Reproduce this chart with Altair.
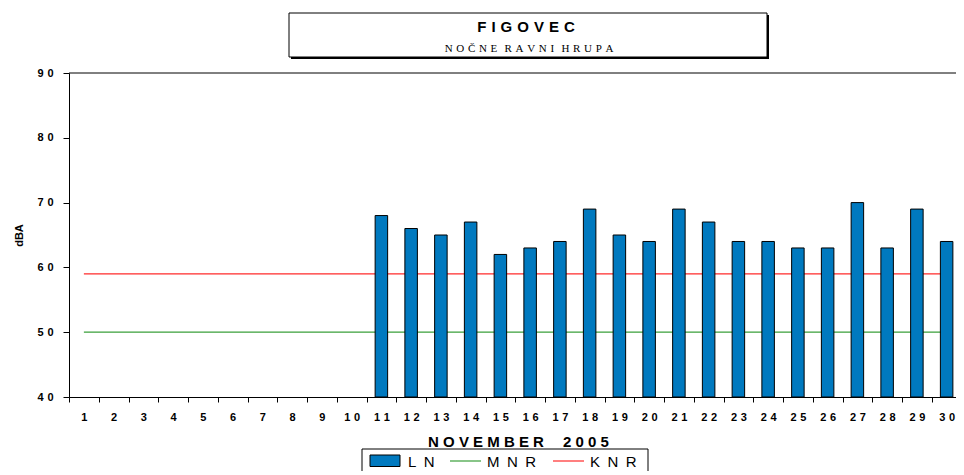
import altair as alt
import pandas as pd

# ---- data ----
days = list(range(1, 31))
ln_days = list(range(11, 31))
ln_values = [68, 66, 65, 67, 62, 63, 64, 69, 65, 64,
             69, 67, 64, 64, 63, 63, 70, 63, 69, 64]
mnr_level = 50
knr_level = 59
y_ticks = [40, 50, 60, 70, 80, 90]
series_names = ["MNR", "KNR"]

SP = "\u2004"
title_text = SP.join("FIGOVEC")
subtitle_text = (SP + SP).join(SP.join(w) for w in ["NOČNE", "RAVNI", "HRUPA"])
x_title = " ".join("NOVEMBER") + " \u2003" + " ".join("2005")
legend_labels = ["\u2002".join("LN"), "\u2002".join("MNR"), "\u2002".join("KNR")]

BLUE = "#0079BF"
GREEN = "#3A9F3A"
RED = "#FF2A2A"
SANS = "Liberation Sans"
SERIF = "Liberation Serif"

bar_df = pd.DataFrame({"day": ln_days, "value": ln_values})
line_rows = []
for name, lvl in zip(series_names, [mnr_level, knr_level]):
    for d in days:
        line_rows.append({"day": d, "value": lvl, "series": name})
line_df = pd.DataFrame(line_rows)
one = pd.DataFrame({"k": [0]})

spaced = "length(datum.label) > 1 ? slice(datum.label, 0, 1) + '" + SP + "' + slice(datum.label, 1) : datum.label"

x_enc = alt.X(
    "day:O",
    scale=alt.Scale(domain=days, range=[0, 892.5], paddingInner=0, paddingOuter=0),
    axis=alt.Axis(
        title=x_title, labelAngle=0, labelExpr=spaced, labelFont=SANS,
        labelFontSize=11, labelFontWeight="bold", labelColor="black",
        tickBand="extent", tickSize=5, tickColor="black", domainColor="black",
        labelPadding=9, titleFont=SANS, titleFontSize=15, titleFontWeight="bold",
        titleColor="black", titleX=449, titleY=49, titleBaseline="alphabetic", grid=False,
    ),
)
y_enc = alt.Y(
    "value:Q",
    scale=alt.Scale(domain=[40, 90], zero=False, nice=False),
    axis=alt.Axis(
        values=y_ticks, title="dBA", labelExpr=spaced, labelFont=SANS,
        labelFontSize=11, labelFontWeight="bold", labelColor="black",
        tickSize=6, tickColor="black", domainColor="black", labelPadding=10,
        titleFont=SANS, titleFontSize=11, titleFontWeight="bold", titleColor="black",
        titleAngle=-90, titleX=-47, titleY=162, titleBaseline="alphabetic",
        titleAlign="center", grid=False,
    ),
)

bars = alt.Chart(bar_df).mark_bar(size=12.5, color=BLUE, stroke="black", strokeWidth=1).encode(
    x=x_enc, y=y_enc, y2=alt.datum(40)
)

lines = alt.Chart(line_df).mark_line(strokeWidth=1.2).encode(
    x=x_enc, y=y_enc,
    color=alt.Color("series:N", scale=alt.Scale(domain=series_names, range=[GREEN, RED]), legend=None),
)

top_rule = alt.Chart(one).mark_rule(color="black", strokeWidth=1).encode(
    x=alt.value(0), x2=alt.value(900), y=alt.value(0)
)

# title frame with shadow
title_shadow = alt.Chart(one).mark_rect(color="black").encode(
    x=alt.value(222), x2=alt.value(700), y=alt.value(-58), y2=alt.value(-14)
)
title_box = alt.Chart(one).mark_rect(fill="white", stroke="black", strokeWidth=1).encode(
    x=alt.value(220), x2=alt.value(698), y=alt.value(-60), y2=alt.value(-16)
)
title_t = alt.Chart(one).mark_text(font=SANS, fontSize=15, fontWeight="bold", color="black",
                                   align="center", baseline="alphabetic").encode(
    x=alt.value(457), y=alt.value(-41.5), text=alt.value(title_text)
)
subtitle_t = alt.Chart(one).mark_text(font=SERIF, fontSize=11, color="black",
                                      align="center", baseline="alphabetic").encode(
    x=alt.value(460), y=alt.value(-21.5), text=alt.value(subtitle_text)
)

# legend
leg_box = alt.Chart(one).mark_rect(fill="white", stroke="black", strokeWidth=1).encode(
    x=alt.value(293), x2=alt.value(579), y=alt.value(376), y2=alt.value(412)
)
leg_ln = alt.Chart(one).mark_rect(fill=BLUE, stroke="black", strokeWidth=1).encode(
    x=alt.value(301), x2=alt.value(331), y=alt.value(382), y2=alt.value(393.5)
)
leg_mnr = alt.Chart(one).mark_rule(color=GREEN, strokeWidth=1.2).encode(
    x=alt.value(381), x2=alt.value(412), y=alt.value(388)
)
leg_knr = alt.Chart(one).mark_rule(color=RED, strokeWidth=1.2).encode(
    x=alt.value(484), x2=alt.value(515), y=alt.value(388)
)
leg_texts = []
for lbl, xpos in zip(legend_labels, [339, 418, 521]):
    leg_texts.append(
        alt.Chart(one).mark_text(font=SANS, fontSize=15, color="black",
                                 align="left", baseline="alphabetic").encode(
            x=alt.value(xpos), y=alt.value(393.5), text=alt.value(lbl)
        )
    )

chart = alt.layer(
    top_rule, lines, bars, title_shadow, title_box, title_t, subtitle_t,
    leg_box, leg_ln, leg_mnr, leg_knr, *leg_texts
).properties(
    width=887, height=324,
    padding={"left": 61, "top": 65, "right": 0, "bottom": 74},
    autosize=alt.AutoSizeParams(type="none"),
    background="white",
).configure_view(stroke=None)

chart.save("out.html", embed_options={"renderer": "svg", "actions": False})
